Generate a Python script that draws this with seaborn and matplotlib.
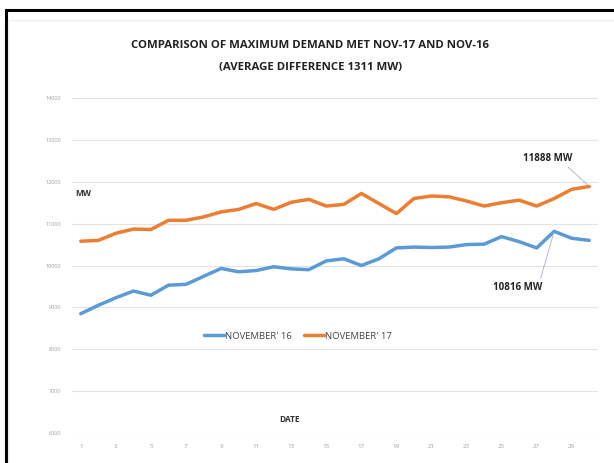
import matplotlib
matplotlib.use("Agg")
import matplotlib.pyplot as plt
import seaborn as sns
import pandas as pd
from matplotlib.patches import Rectangle
from matplotlib.lines import Line2D

# data
days = list(range(1, 31))
nov16 = [8850, 9050, 9230, 9390, 9290, 9530, 9550, 9740, 9930, 9850,
         9880, 9970, 9920, 9900, 10110, 10160, 10000, 10160, 10420, 10440,
         10430, 10440, 10500, 10510, 10690, 10570, 10420, 10816, 10650, 10600]
nov17 = [10580, 10600, 10770, 10870, 10860, 11080, 11080, 11160, 11280, 11340,
         11480, 11340, 11510, 11580, 11420, 11460, 11720, 11480, 11240, 11600,
         11660, 11640, 11540, 11420, 11500, 11560, 11420, 11600, 11820, 11888]
series_names = ["NOVEMBER' 16", "NOVEMBER' 17"]
colors = ["#5B9BD5", "#ED7D31"]
yticks = [6000, 7000, 8000, 9000, 10000, 11000, 12000, 13000, 14000]
xticks = list(range(1, 30, 2))

df = pd.DataFrame({
    "DATE": days * 2,
    "MW": nov16 + nov17,
    "series": [series_names[0]] * 30 + [series_names[1]] * 30,
})

sns.set_style("white")
plt.rcParams["font.family"] = ["Open Sans", "DejaVu Sans"]

fig = plt.figure(figsize=(6.14, 4.63), dpi=100)
ax = fig.add_axes([0.1173, 0.0648, 0.8567, 0.7235])

sns.lineplot(data=df, x="DATE", y="MW", hue="series", palette=colors,
             linewidth=2.5, legend=False, ax=ax)

ax.set_xlim(0.5, 30.5)
ax.set_ylim(6000, 14000)
ax.set_yticks(yticks)
ax.set_yticklabels([str(v) for v in yticks], fontsize=4, color="#a0a0a0")
ax.set_xticks(xticks)
ax.set_xticklabels([str(v) for v in xticks], fontsize=4.5, color="#a0a0a0")
ax.tick_params(length=0, pad=8)
ax.yaxis.grid(True, color="#e3e3e3", linewidth=0.8)
ax.set_axisbelow(True)
for s in ax.spines.values():
    s.set_visible(False)
ax.set_xlabel("")
ax.set_ylabel("")

# title
fig.text(0.505, 0.901, "COMPARISON OF MAXIMUM DEMAND MET NOV-17 AND NOV-16",
         ha="center", va="center", fontsize=8.2, fontweight="bold", color="#222222")
fig.text(0.505, 0.855, "(AVERAGE DIFFERENCE 1311 MW)",
         ha="center", va="center", fontsize=8.2, fontweight="bold", color="#222222")

# axis labels as loose text like the original
fig.text(0.122, 0.583, "MW", ha="left", va="center", fontsize=6,
         fontweight="bold", color="#333333")
fig.text(0.472, 0.095, "DATE", ha="center", va="center", fontsize=6,
         fontweight="bold", color="#333333")

# legend
handles = [Line2D([], [], color=c, linewidth=2.5) for c in colors]
fig.legend(handles, series_names, loc="center", bbox_to_anchor=(0.485, 0.274),
           ncol=2, frameon=False, fontsize=6.8, handlelength=2.1,
           handletextpad=0.1, columnspacing=1.3, labelcolor="#444444")

# data callouts
ax.annotate("11888 MW", xy=(30, nov17[-1]), xytext=(26.2, 12500),
            fontsize=7, fontweight="bold", color="#222222",
            arrowprops=dict(arrowstyle="-", color="#a0b4c8", linewidth=0.6,
                            shrinkA=0, shrinkB=1, relpos=(0.85, 0)))
ax.annotate("10816 MW", xy=(28, nov16[27]), xytext=(24.5, 9420),
            fontsize=7, fontweight="bold", color="#222222",
            arrowprops=dict(arrowstyle="-", color="#a0b4c8", linewidth=0.6,
                            shrinkA=0, shrinkB=1, relpos=(0.95, 1)))

# black frame (top and left visible, cropped on the other sides)
fig.patches.append(Rectangle((5.5 / 614, -0.05), 1.2, 1 - 10 / 463 + 0.05,
                             transform=fig.transFigure, fill=False,
                             edgecolor="black", linewidth=2.2))
fig.patches.append(Rectangle((8 / 614, -0.05), 1.2, 1 - 20 / 463 + 0.05,
                             transform=fig.transFigure, fill=False,
                             edgecolor="#ececec", linewidth=0.8))

fig.savefig("out.png", dpi=100)
